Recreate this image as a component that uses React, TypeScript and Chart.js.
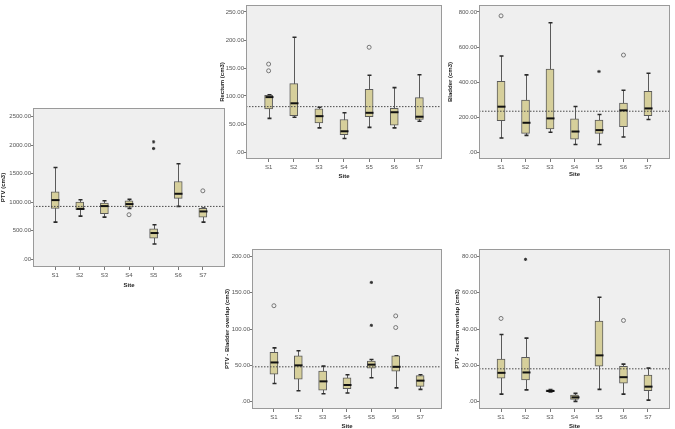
import React, { useEffect, useRef } from "react";
import { Chart, registerables } from "chart.js";
Chart.register(...registerables);

const sites = ["S1", "S2", "S3", "S4", "S5", "S6", "S7"];
const siteIdx = [1, 2, 3, 4, 5, 6, 7];
const X_MIN = 0.1;
const X_MAX = 7.9;

// PTV (cm3)
const ptvLow = [648, 753, 736, 888, 263, 923, 648];
const ptvQ1 = [888, 864, 794, 911, 368, 1063, 736];
const ptvMed = [1034, 880, 929, 964, 456, 1145, 835];
const ptvQ3 = [1180, 999, 981, 1022, 531, 1361, 888];
const ptvHigh = [1606, 1040, 1022, 1046, 602, 1671, 894];
const ptvCircles = [[], [], [], [777], [], [], [1197]];
const ptvStars = [[], [], [], [], [2056, 1939], [], []];
const ptvRef = 923;
const ptvTicks = [0, 500, 1000, 1500, 2000, 2500];

// Rectum (cm3)
const recLow = [60, 62, 43, 24, 44, 43, 55];
const recQ1 = [77, 65, 52, 31, 63, 48, 58];
const recMed = [98, 87, 64, 37, 70, 71, 63];
const recQ3 = [101, 122, 77, 58, 112, 78, 97];
const recHigh = [102, 205, 80, 70, 137, 115, 138];
const recCircles = [[157, 145], [], [], [], [187], [], []];
const recStars = [[], [], [], [], [], [], []];
const recRef = 81;
const recTicks = [0, 50, 100, 150, 200, 250];

// Bladder (cm3)
const blaLow = [80, 95, 113, 43, 43, 86, 186];
const blaQ1 = [179, 106, 132, 74, 106, 145, 207];
const blaMed = [259, 167, 192, 117, 125, 238, 249];
const blaQ3 = [404, 296, 474, 190, 182, 279, 346];
const blaHigh = [549, 441, 739, 260, 214, 353, 450];
const blaCircles = [[778], [], [], [], [], [554], []];
const blaStars = [[], [], [], [], [460], [], []];
const blaRef = 233;
const blaTicks = [0, 200, 400, 600, 800];

// PTV - Bladder overlap (cm3)
const pboLow = [25, 15, 11, 12, 33, 19, 17];
const pboQ1 = [38, 31, 16, 18, 46, 42, 21];
const pboMed = [54, 50, 28, 23, 51, 48, 29];
const pboQ3 = [68, 63, 42, 33, 56, 63, 36];
const pboHigh = [74, 70, 49, 37, 58, 63, 37];
const pboCircles = [[132], [], [], [], [], [118, 102], []];
const pboStars = [[], [], [], [], [164, 105], [], []];
const pboRef = 48;
const pboTicks = [0, 50, 100, 150, 200];

// PTV - Rectum overlap (cm3)
const proLow = [4.2, 6.5, 5.4, 0.2, 6.8, 4.2, 0.9];
const proQ1 = [12.9, 12.0, 5.6, 1.3, 19.6, 10.2, 6.1];
const proMed = [15.9, 16.1, 5.9, 2.4, 25.5, 13.5, 8.3];
const proQ3 = [23.5, 24.4, 6.5, 3.7, 44.3, 19.4, 14.6];
const proHigh = [37.0, 35.0, 6.7, 4.6, 57.5, 20.7, 18.5];
const proCircles = [[45.8], [], [], [], [], [44.7], []];
const proStars = [[], [78.3], [], [], [], [], []];
const proRef = 18.1;
const proTicks = [0, 20, 40, 60, 80];

type Spec = {
  title: string;
  low: number[]; q1: number[]; med: number[]; q3: number[]; high: number[];
  circles: number[][]; stars: number[][]; refVal: number; ticks: number[];
  yMin: number; yMax: number;
  canvas: [number, number, number, number];
  plot: [number, number, number, number];
  yTitleCx: number; xTitleCy: number;
};

const specs: Spec[] = [
  { title: "PTV (cm3)", low: ptvLow, q1: ptvQ1, med: ptvMed, q3: ptvQ3, high: ptvHigh, circles: ptvCircles, stars: ptvStars, refVal: ptvRef, ticks: ptvTicks, yMin: -140, yMax: 2650, canvas: [0, 95, 232, 200], plot: [33, 108, 225, 267], yTitleCx: 3.5, xTitleCy: 285 },
  { title: "Rectum (cm3)", low: recLow, q1: recQ1, med: recMed, q3: recQ3, high: recHigh, circles: recCircles, stars: recStars, refVal: recRef, ticks: recTicks, yMin: -12.5, yMax: 262.5, canvas: [216, 0, 232, 185], plot: [246, 0, 442, 159], yTitleCx: 222, xTitleCy: 176 },
  { title: "Bladder (cm3)", low: blaLow, q1: blaQ1, med: blaMed, q3: blaQ3, high: blaHigh, circles: blaCircles, stars: blaStars, refVal: blaRef, ticks: blaTicks, yMin: -40, yMax: 840, canvas: [444, 0, 231, 185], plot: [479, 0, 673, 159], yTitleCx: 450, xTitleCy: 174 },
  { title: "PTV - Bladder overlap (cm3)", low: pboLow, q1: pboQ1, med: pboMed, q3: pboQ3, high: pboHigh, circles: pboCircles, stars: pboStars, refVal: pboRef, ticks: pboTicks, yMin: -10, yMax: 210, canvas: [222, 236, 226, 196], plot: [252, 249, 442, 409], yTitleCx: 227, xTitleCy: 426 },
  { title: "PTV - Rectum overlap (cm3)", low: proLow, q1: proQ1, med: proMed, q3: proQ3, high: proHigh, circles: proCircles, stars: proStars, refVal: proRef, ticks: proTicks, yMin: -4, yMax: 84, canvas: [446, 236, 229, 196], plot: [479, 249, 672, 409], yTitleCx: 457, xTitleCy: 426 },
];

const FONT = "'Liberation Sans', Arial, sans-serif";
const FS = 6;
const LH = FS * 1.2;

function BoxPanel({ spec }: { spec: Spec }) {
  const ref = useRef<HTMLCanvasElement>(null);
  useEffect(() => {
    const s = spec;
    const [cx, cy, cw, ch] = s.canvas;
    const [L, T, R, B] = s.plot;
    const boxes = siteIdx.map((x, i) => ({ x, y: [s.q1[i], s.q3[i]] }));
    const circ = s.circles.flatMap((arr, i) => arr.map((v) => ({ x: siteIdx[i], y: v })));
    const star = s.stars.flatMap((arr, i) => arr.map((v) => ({ x: siteIdx[i], y: v })));
    const refLine = [{ x: X_MIN, y: s.refVal }, { x: X_MAX, y: s.refVal }];

    const plugin = {
      id: "boxplotExtras",
      beforeDraw(chart: any) {
        const { ctx, chartArea: a } = chart;
        ctx.save();
        ctx.fillStyle = "#efefef";
        ctx.fillRect(a.left, a.top, a.right - a.left, a.bottom - a.top);
        ctx.restore();
      },
      beforeDatasetsDraw(chart: any) {
        const { ctx } = chart;
        const x = chart.scales.x, y = chart.scales.y;
        ctx.save();
        for (let i = 0; i < siteIdx.length; i++) {
          const px = Math.round(x.getPixelForValue(siteIdx[i])) + 0.5;
          const yl = y.getPixelForValue(s.low[i]);
          const yh = y.getPixelForValue(s.high[i]);
          ctx.strokeStyle = "#5a5a5a";
          ctx.lineWidth = 1;
          ctx.beginPath();
          ctx.moveTo(px, yl);
          ctx.lineTo(px, yh);
          ctx.stroke();
          ctx.strokeStyle = "#2a2a2a";
          ctx.lineWidth = 1.6;
          ctx.beginPath();
          ctx.moveTo(px - 2, yl);
          ctx.lineTo(px + 2, yl);
          ctx.moveTo(px - 2, yh);
          ctx.lineTo(px + 2, yh);
          ctx.stroke();
        }
        ctx.restore();
      },
      afterDatasetsDraw(chart: any) {
        const { ctx, chartArea: a } = chart;
        const x = chart.scales.x, y = chart.scales.y;
        ctx.save();
        for (let i = 0; i < siteIdx.length; i++) {
          const px = Math.round(x.getPixelForValue(siteIdx[i])) + 0.5;
          const ym = y.getPixelForValue(s.med[i]);
          ctx.strokeStyle = "#111";
          ctx.lineWidth = 2;
          ctx.beginPath();
          ctx.moveTo(px - 4, ym);
          ctx.lineTo(px + 4, ym);
          ctx.stroke();
        }
        ctx.strokeStyle = "#9a9a9a";
        ctx.lineWidth = 1;
        ctx.strokeRect(a.left + 0.5, a.top + 0.5, a.right - a.left - 1, a.bottom - a.top - 1);
        ctx.restore();
      },
    };

    const chart = new Chart(ref.current as HTMLCanvasElement, {
      type: "bar",
      data: {
        datasets: [
          { type: "line", data: refLine, borderColor: "#4a4a4a", borderWidth: 1, borderDash: [1.5, 1.5], pointRadius: 0, fill: false } as any,
          { type: "scatter", data: circ, pointStyle: "circle", radius: 2, borderColor: "#777", borderWidth: 1, backgroundColor: "rgba(0,0,0,0)" } as any,
          { type: "scatter", data: star, pointStyle: "star", radius: 1.6, borderColor: "#333", borderWidth: 1, backgroundColor: "#333" } as any,
          { type: "bar", data: boxes, backgroundColor: "#d6cf9b", borderColor: "#5a5a5a", borderWidth: 1, borderSkipped: false, barThickness: 8, grouped: false } as any,
        ],
      },
      options: {
        animation: false,
        responsive: false,
        maintainAspectRatio: false,
        events: [],
        layout: { padding: { left: 0, top: T - cy, right: cx + cw - R, bottom: 0 } },
        plugins: { legend: { display: false }, tooltip: { enabled: false } },
        scales: {
          x: {
            type: "linear",
            offset: false,
            min: X_MIN,
            max: X_MAX,
            afterBuildTicks: (ax: any) => { ax.ticks = siteIdx.map((v) => ({ value: v })); },
            afterFit: (ax: any) => { ax.height = cy + ch - B; },
            ticks: { autoSkip: false, maxRotation: 0, padding: 2, color: "#555", font: { family: FONT, size: FS }, callback: (v: any) => sites[Number(v) - 1] },
            grid: { display: true, offset: false, drawOnChartArea: false, drawTicks: true, tickLength: 3, color: "#777" },
            border: { display: false },
            title: { display: true, text: "Site", color: "#222", font: { family: FONT, size: FS, weight: "bold" }, padding: { top: 0, bottom: Math.max(0, cy + ch - s.xTitleCy - LH / 2) } },
          },
          y: {
            type: "linear",
            min: s.yMin,
            max: s.yMax,
            afterBuildTicks: (ax: any) => { ax.ticks = s.ticks.map((v) => ({ value: v })); },
            afterFit: (ax: any) => { ax.width = L - cx; },
            ticks: { padding: 0, color: "#555", font: { family: FONT, size: FS }, callback: (v: any) => (Number(v) === 0 ? ".00" : Number(v).toFixed(2)) },
            grid: { display: true, drawOnChartArea: false, drawTicks: true, tickLength: 2, color: "#777" },
            border: { display: false },
            title: { display: true, text: s.title, color: "#222", font: { family: FONT, size: FS, weight: "bold" }, padding: { top: Math.max(0, s.yTitleCx - cx - LH / 2), bottom: 0 } },
          },
        },
      } as any,
      plugins: [plugin],
    });
    return () => chart.destroy();
  }, [spec]);
  const [cx, cy, cw, ch] = spec.canvas;
  return (
    <canvas
      ref={ref}
      width={cw}
      height={ch}
      style={{ position: "absolute", left: cx, top: cy, width: cw, height: ch }}
    />
  );
}

export default function App() {
  return (
    <div style={{ position: "fixed", left: 0, top: 0, width: 675, height: 429, overflow: "hidden", background: "#fff" }}>
      {specs.map((s) => (
        <BoxPanel key={s.title} spec={s} />
      ))}
    </div>
  );
}
